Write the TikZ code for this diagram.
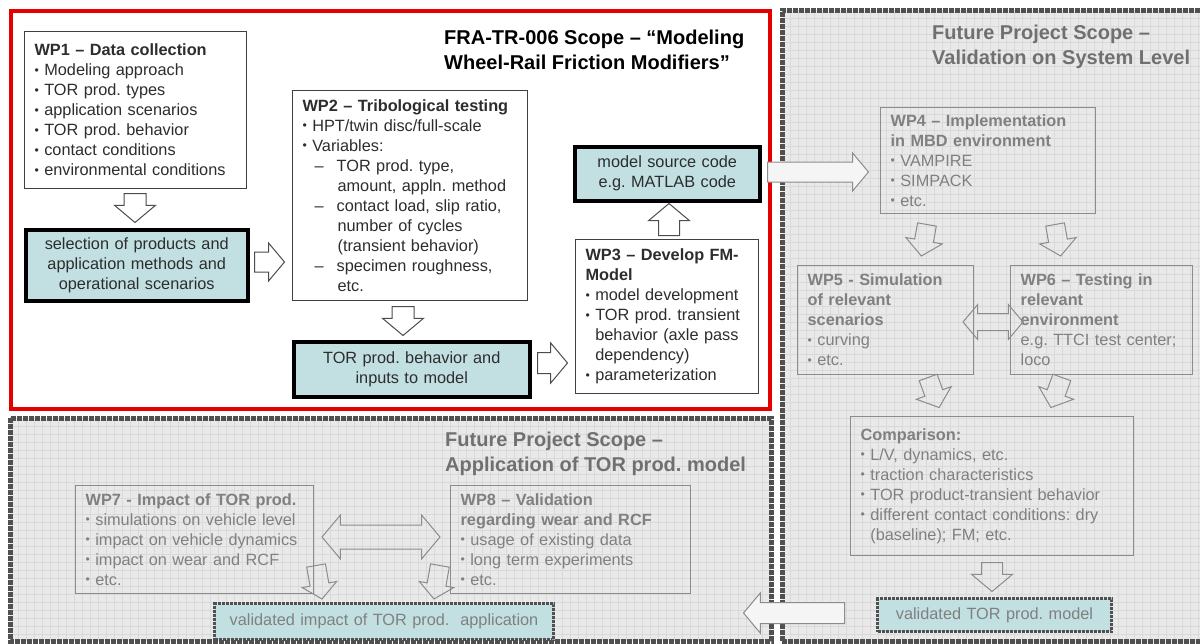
\documentclass[tikz,border=0pt]{standalone}
\usepackage{fontspec}
\setmainfont{Liberation Sans}
\usetikzlibrary{shapes.arrows}
\definecolor{tealfill}{RGB}{194,224,226}
\definecolor{futbg}{RGB}{233,233,233}
\definecolor{gridc}{RGB}{217,217,217}
\definecolor{futline}{RGB}{140,140,140}
\definecolor{futtext}{RGB}{128,128,128}
\definecolor{futhead}{RGB}{112,112,112}
\definecolor{frame}{RGB}{80,80,80}
\definecolor{redline}{RGB}{228,0,0}
\definecolor{bodytext}{RGB}{45,45,45}
\newcommand\bul{\raisebox{.1em}{\scalebox{.75}{•}}\ }
\newcommand\ind{\phantom{\bul}}
\frenchspacing
\begin{document}
\begin{tikzpicture}[x=1pt, y=-1pt,
  every node/.style = {font=\fontsize{16.3}{20}\selectfont},
  wpbox/.style = {draw=black!75, line width=1.2pt, fill=white, anchor=north west,
    align=left, inner xsep=10pt, inner ysep=4pt, text=bodytext},
  keybox/.style = {draw=black, line width=3.5pt, fill=tealfill, anchor=north west,
    align=center, inner sep=2pt, text=bodytext},
  futbox/.style = {draw=futline, line width=1.3pt, anchor=north west,
    align=left, inner xsep=10pt, inner ysep=4pt, text=futtext},
  futkey/.style = {draw=frame, line width=3pt, dash pattern=on 3pt off 1pt,
    fill=tealfill, anchor=north west, align=center, inner sep=2pt, text=futtext},
  title/.style = {anchor=north west, align=left, inner sep=0pt,
    font=\fontsize{20}{25}\selectfont\bfseries},
  barrow/.style n args = {3}{single arrow, draw=black!70, fill=white, line width=1pt,
    inner xsep=0pt, inner ysep=#3/2, minimum height=#1, minimum width=#2,
    single arrow head extend=(#2-#3)/2, single arrow tip angle=100, anchor=tail},
  farrow/.style n args = {3}{barrow={#1}{#2}{#3}, draw=futline, fill=none},
  darrow/.style n args = {3}{double arrow, draw=futline, line width=1pt,
    inner xsep=0pt, inner ysep=#3/2, minimum height=#1, minimum width=#2,
    double arrow head extend=(#2-#3)/2, double arrow tip angle=100},
  gridline/.style = {gridc, line width=0.5pt},
  regionline/.style = {frame, line width=5pt, dash pattern=on 5pt off 1pt}]

  \useasboundingbox (0,0) rectangle (1200,643);
  \fill[white] (0,0) rectangle (1200,643);

  % future project areas
  \fill[futbg] (782,10) rectangle (1200,643);
  \foreach \gx in {790,798,...,1200} \draw[gridline] (\gx,10) -- (\gx,643);
  \foreach \gy in {18,26,...,643} \draw[gridline] (782,\gy) -- (1200,\gy);
  \draw[regionline] (782,641) -- (782,10) -- (1200,10);
  \draw[regionline] (782,641) -- (1200,641);

  \fill[futbg] (10,418) rectangle (771,641);
  \foreach \gx in {18,26,...,771} \draw[gridline] (\gx,418) -- (\gx,641);
  \foreach \gy in {426,434,...,641} \draw[gridline] (10,\gy) -- (771,\gy);
  \draw[regionline] (10,418) rectangle (771,641);

  % FRA-TR-006 scope
  \draw[redline, line width=4pt, fill=white] (11,11) rectangle (770,409);

  \node[title] (frascope) at (444,30) {FRA-TR-006 Scope – “Modeling\\
    Wheel-Rail Friction Modifiers”};

  \node[wpbox, minimum width=222pt, minimum height=157pt, text width=202pt] (wp1)
    at (24,31) {\textbf{WP1 – Data collection}\\ \bul Modeling approach\\
    \bul TOR prod. types\\ \bul application scenarios\\ \bul TOR prod. behavior\\
    \bul contact conditions\\ \bul environmental conditions};
  \node[keybox, minimum width=222pt, minimum height=71pt, text width=218pt] (sel)
    at (24,228) {selection of products and\\ application methods and\\
    operational scenarios};
  \node[wpbox, minimum width=235pt, minimum height=210pt, text width=215pt] (wp2)
    at (292,90) {\textbf{WP2 – Tribological testing}\\ \bul HPT/twin disc/full-scale\\
    \bul Variables:\\
    \hspace*{12pt}–\hspace{13pt}TOR prod. type,\\
    \hspace*{35pt}amount, appln. method\\
    \hspace*{12pt}–\hspace{13pt}contact load, slip ratio,\\
    \hspace*{35pt}number of cycles\\
    \hspace*{35pt}(transient behavior)\\
    \hspace*{12pt}–\hspace{13pt}specimen roughness,\\
    \hspace*{35pt}etc.};
  \node[keybox, minimum width=236pt, minimum height=55pt, text width=232pt] (tor)
    at (292,340) {TOR prod. behavior and\\ inputs to model};
  \node[wpbox, minimum width=183pt, minimum height=154pt, text width=163pt] (wp3)
    at (575,239) {\textbf{WP3 – Develop FM-}\\ \textbf{Model}\\ \bul model development\\
    \bul TOR prod. transient\\ \ind behavior (axle pass\\ \ind dependency)\\
    \bul parameterization};
  \node[keybox, minimum width=185pt, minimum height=54pt, text width=181pt] (msc)
    at (573,145) {model source code\\ e.g. MATLAB code};

  \node[barrow={29}{40}{21}, rotate=-90] (a1) at (135,193) {};
  \node[barrow={30}{37}{19}] (a2) at (254,262) {};
  \node[barrow={29}{40}{21}, rotate=-90] (a3) at (403,306) {};
  \node[barrow={30}{39}{20}] (a4) at (537,363) {};
  \node[barrow={32}{40}{20}, rotate=90] (a5) at (669,236) {};

  % validation on system level
  \node[title, text=futhead] (futsys) at (932,25) {Future Project Scope –\\
    Validation on System Level};
  \node[futbox, minimum width=215pt, minimum height=106pt, text width=195pt] (wp4)
    at (880,107) {\textbf{WP4 – Implementation}\\ \textbf{in MBD environment}\\
    \bul VAMPIRE\\ \bul SIMPACK\\ \bul etc.};
  \node[futbox, minimum width=176pt, minimum height=109pt, text width=156pt] (wp5)
    at (797,265) {\textbf{WP5 - Simulation}\\ \textbf{of relevant}\\ \textbf{scenarios}\\
    \bul curving\\ \bul etc.};
  \node[futbox, minimum width=182pt, minimum height=109pt, text width=162pt] (wp6)
    at (1010,265) {\textbf{WP6 – Testing in}\\ \textbf{relevant}\\ \textbf{environment}\\
    e.g. TTCI test center;\\ loco};
  \node[futbox, minimum width=283pt, minimum height=139pt, text width=263pt] (comp)
    at (850,416) {\textbf{Comparison:}\\ \bul L/V, dynamics, etc.\\
    \bul traction characteristics\\ \bul TOR product-transient behavior\\
    \bul different contact conditions: dry\\ \ind(baseline); FM; etc.};
  \node[futkey, minimum width=234pt, minimum height=33pt, text width=230pt] (vmod)
    at (876,597) {validated TOR prod. model};

  \node[farrow={32}{36}{18}, rotate=-100] (b1) at (927,224) {};
  \node[farrow={32}{36}{18}, rotate=-80] (b2) at (1055,224) {};
  \node[darrow={60}{34}{16}] (b3) at (993,322) {};
  \node[farrow={32}{36}{18}, rotate=-70] (b4) at (928,377) {};
  \node[farrow={32}{36}{18}, rotate=-110] (b5) at (1062,377) {};
  \node[farrow={29}{40}{20}, rotate=-90] (b6) at (992,562) {};

  % application of TOR prod. model
  \node[title, text=futhead] (futapp) at (445,432) {Future Project Scope –\\
    Application of TOR prod. model};
  \node[futbox, minimum width=238pt, minimum height=108pt, text width=218pt] (wp7)
    at (75,485) {\textbf{WP7 - Impact of TOR prod.}\\ \bul simulations on vehicle level\\
    \bul impact on vehicle dynamics\\ \bul impact on wear and RCF\\ \bul etc.};
  \node[futbox, minimum width=240pt, minimum height=108pt, text width=220pt] (wp8)
    at (450,485) {\textbf{WP8 – Validation}\\ \textbf{regarding wear and RCF}\\
    \bul usage of existing data\\ \bul long term experiments\\ \bul etc.};
  \node[futkey, minimum width=339pt, minimum height=36pt, text width=335pt] (vimp)
    at (213,602) {validated impact of TOR prod.\ \ application};

  \node[darrow={118}{43}{23}] (c1) at (381,537) {};
  \node[farrow={34}{34}{18}, rotate=-80] (c2) at (316,565) {};
  \node[farrow={34}{34}{18}, rotate=-100] (c3) at (440,565) {};

  % crossing arrows
  \node[barrow={101}{37}{19}, draw=futline, fill=black!4] (a6) at (767,172) {};
  \node[barrow={101}{39}{20}, draw=futline, fill=black!4, rotate=180] (b7)
    at (845,613) {};
\end{tikzpicture}
\end{document}
